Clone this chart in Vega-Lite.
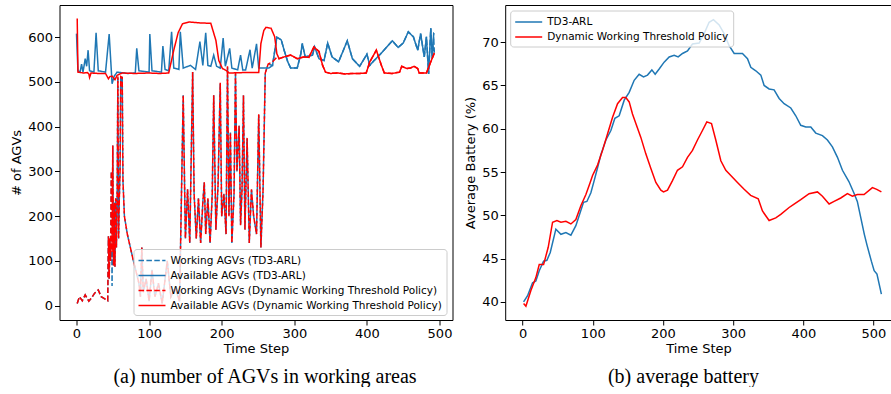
{
  "$schema": "https://vega.github.io/schema/vega-lite/v6.json",
  "padding": {"left": 10.5, "top": 5, "right": 0, "bottom": 0},
  "spacing": 11.7,
  "datasets": {
    "agv": [
      {"s":"W1","t":1,"v":5},{"s":"W1","t":4,"v":20},{"s":"W1","t":8,"v":11},{"s":"W1","t":12,"v":24},{"s":"W1","t":17,"v":10},{"s":"W1","t":21,"v":18},{"s":"W1","t":25,"v":28},{"s":"W1","t":30,"v":35},{"s":"W1","t":34,"v":20},{"s":"W1","t":39,"v":15},{"s":"W1","t":43,"v":11},{"s":"W1","t":44,"v":155},{"s":"W1","t":45,"v":60},{"s":"W1","t":46,"v":150},{"s":"W1","t":47,"v":100},{"s":"W1","t":48,"v":300},{"s":"W1","t":49,"v":44},{"s":"W1","t":50,"v":358},{"s":"W1","t":51,"v":90},{"s":"W1","t":52,"v":230},{"s":"W1","t":53,"v":87},{"s":"W1","t":54,"v":240},{"s":"W1","t":55,"v":130},{"s":"W1","t":56,"v":250},{"s":"W1","t":57,"v":512},{"s":"W1","t":58,"v":150},{"s":"W1","t":59,"v":240},{"s":"W1","t":60,"v":300},{"s":"W1","t":61,"v":512},{"s":"W1","t":63,"v":510},{"s":"W1","t":64,"v":280},{"s":"W1","t":66,"v":200},{"s":"W1","t":70,"v":160},{"s":"W1","t":77,"v":110},{"s":"W1","t":86,"v":50},{"s":"W1","t":88,"v":20},{"s":"W1","t":90,"v":130},{"s":"W1","t":92,"v":30},{"s":"W1","t":96,"v":60},{"s":"W1","t":100,"v":10},{"s":"W1","t":104,"v":80},{"s":"W1","t":108,"v":20},{"s":"W1","t":113,"v":50},{"s":"W1","t":118,"v":5},{"s":"W1","t":125,"v":100},{"s":"W1","t":130,"v":20},{"s":"W1","t":136,"v":40},{"s":"W1","t":142,"v":10},{"s":"W1","t":147,"v":470},{"s":"W1","t":150,"v":150},{"s":"W1","t":153,"v":260},{"s":"W1","t":156,"v":140},{"s":"W1","t":160,"v":522},{"s":"W1","t":162,"v":250},{"s":"W1","t":165,"v":150},{"s":"W1","t":168,"v":240},{"s":"W1","t":171,"v":140},{"s":"W1","t":174,"v":230},{"s":"W1","t":176,"v":276},{"s":"W1","t":178,"v":160},{"s":"W1","t":181,"v":240},{"s":"W1","t":184,"v":140},{"s":"W1","t":187,"v":250},{"s":"W1","t":189,"v":470},{"s":"W1","t":192,"v":170},{"s":"W1","t":195,"v":270},{"s":"W1","t":198,"v":498},{"s":"W1","t":200,"v":200},{"s":"W1","t":203,"v":250},{"s":"W1","t":206,"v":160},{"s":"W1","t":208,"v":535},{"s":"W1","t":210,"v":200},{"s":"W1","t":212,"v":387},{"s":"W1","t":214,"v":140},{"s":"W1","t":217,"v":250},{"s":"W1","t":219,"v":520},{"s":"W1","t":221,"v":300},{"s":"W1","t":224,"v":402},{"s":"W1","t":226,"v":180},{"s":"W1","t":228,"v":260},{"s":"W1","t":230,"v":470},{"s":"W1","t":232,"v":170},{"s":"W1","t":235,"v":375},{"s":"W1","t":238,"v":140},{"s":"W1","t":241,"v":260},{"s":"W1","t":244,"v":200},{"s":"W1","t":248,"v":160},{"s":"W1","t":251,"v":428},{"s":"W1","t":254,"v":130},{"s":"W1","t":257,"v":260},{"s":"W1","t":260,"v":520},{"s":"W1","t":264,"v":540},{"s":"W1","t":270,"v":537},{"s":"W1","t":276,"v":600},{"s":"W1","t":282,"v":594},{"s":"W1","t":286,"v":571},{"s":"W1","t":291,"v":545},{"s":"W1","t":295,"v":531},{"s":"W1","t":304,"v":531},{"s":"W1","t":309,"v":563},{"s":"W1","t":311,"v":586},{"s":"W1","t":315,"v":556},{"s":"W1","t":325,"v":560},{"s":"W1","t":328,"v":578},{"s":"W1","t":334,"v":552},{"s":"W1","t":341,"v":548},{"s":"W1","t":346,"v":587},{"s":"W1","t":352,"v":556},{"s":"W1","t":361,"v":545},{"s":"W1","t":373,"v":592},{"s":"W1","t":380,"v":552},{"s":"W1","t":390,"v":535},{"s":"W1","t":400,"v":562},{"s":"W1","t":404,"v":537},{"s":"W1","t":410,"v":548},{"s":"W1","t":419,"v":563},{"s":"W1","t":435,"v":592},{"s":"W1","t":443,"v":577},{"s":"W1","t":450,"v":587},{"s":"W1","t":457,"v":612},{"s":"W1","t":464,"v":601},{"s":"W1","t":470,"v":571},{"s":"W1","t":474,"v":608},{"s":"W1","t":479,"v":556},{"s":"W1","t":482,"v":601},{"s":"W1","t":485,"v":518},{"s":"W1","t":488,"v":620},{"s":"W1","t":490,"v":552},{"s":"W1","t":492,"v":600},{"s":"W1","t":493,"v":560},

      {"s":"A1","t":0,"v":608},{"s":"A1","t":2,"v":525},{"s":"A1","t":5,"v":522},{"s":"A1","t":7,"v":540},{"s":"A1","t":9,"v":522},{"s":"A1","t":12,"v":552},{"s":"A1","t":14,"v":535},{"s":"A1","t":16,"v":571},{"s":"A1","t":18,"v":525},{"s":"A1","t":24,"v":522},{"s":"A1","t":27,"v":610},{"s":"A1","t":30,"v":525},{"s":"A1","t":40,"v":522},{"s":"A1","t":45,"v":607},{"s":"A1","t":48,"v":525},{"s":"A1","t":49,"v":496},{"s":"A1","t":52,"v":513},{"s":"A1","t":56,"v":522},{"s":"A1","t":70,"v":519},{"s":"A1","t":81,"v":520},{"s":"A1","t":83,"v":575},{"s":"A1","t":86,"v":525},{"s":"A1","t":100,"v":522},{"s":"A1","t":101,"v":607},{"s":"A1","t":104,"v":525},{"s":"A1","t":117,"v":522},{"s":"A1","t":119,"v":580},{"s":"A1","t":122,"v":528},{"s":"A1","t":127,"v":525},{"s":"A1","t":131,"v":612},{"s":"A1","t":134,"v":531},{"s":"A1","t":141,"v":528},{"s":"A1","t":143,"v":612},{"s":"A1","t":147,"v":531},{"s":"A1","t":157,"v":537},{"s":"A1","t":164,"v":528},{"s":"A1","t":170,"v":590},{"s":"A1","t":174,"v":537},{"s":"A1","t":178,"v":610},{"s":"A1","t":181,"v":537},{"s":"A1","t":185,"v":535},{"s":"A1","t":189,"v":560},{"s":"A1","t":193,"v":535},{"s":"A1","t":198,"v":531},{"s":"A1","t":202,"v":598},{"s":"A1","t":205,"v":535},{"s":"A1","t":211,"v":575},{"s":"A1","t":214,"v":531},{"s":"A1","t":222,"v":527},{"s":"A1","t":226,"v":560},{"s":"A1","t":229,"v":527},{"s":"A1","t":233,"v":527},{"s":"A1","t":239,"v":572},{"s":"A1","t":242,"v":531},{"s":"A1","t":248,"v":585},{"s":"A1","t":251,"v":531},{"s":"A1","t":265,"v":531},{"s":"A1","t":270,"v":537},{"s":"A1","t":276,"v":600},{"s":"A1","t":282,"v":594},{"s":"A1","t":286,"v":571},{"s":"A1","t":291,"v":545},{"s":"A1","t":295,"v":531},{"s":"A1","t":304,"v":531},{"s":"A1","t":309,"v":563},{"s":"A1","t":311,"v":586},{"s":"A1","t":315,"v":556},{"s":"A1","t":325,"v":560},{"s":"A1","t":328,"v":578},{"s":"A1","t":334,"v":552},{"s":"A1","t":341,"v":548},{"s":"A1","t":346,"v":587},{"s":"A1","t":352,"v":556},{"s":"A1","t":361,"v":545},{"s":"A1","t":373,"v":592},{"s":"A1","t":380,"v":552},{"s":"A1","t":390,"v":535},{"s":"A1","t":400,"v":562},{"s":"A1","t":404,"v":537},{"s":"A1","t":410,"v":548},{"s":"A1","t":419,"v":563},{"s":"A1","t":435,"v":592},{"s":"A1","t":443,"v":577},{"s":"A1","t":450,"v":587},{"s":"A1","t":457,"v":612},{"s":"A1","t":464,"v":601},{"s":"A1","t":470,"v":571},{"s":"A1","t":474,"v":608},{"s":"A1","t":479,"v":556},{"s":"A1","t":482,"v":601},{"s":"A1","t":485,"v":518},{"s":"A1","t":488,"v":620},{"s":"A1","t":490,"v":552},{"s":"A1","t":492,"v":608},{"s":"A1","t":493,"v":606},

      {"s":"W2","t":1,"v":5},{"s":"W2","t":4,"v":20},{"s":"W2","t":8,"v":11},{"s":"W2","t":12,"v":24},{"s":"W2","t":17,"v":10},{"s":"W2","t":21,"v":18},{"s":"W2","t":25,"v":28},{"s":"W2","t":30,"v":35},{"s":"W2","t":34,"v":20},{"s":"W2","t":39,"v":15},{"s":"W2","t":43,"v":11},{"s":"W2","t":44,"v":155},{"s":"W2","t":45,"v":60},{"s":"W2","t":46,"v":150},{"s":"W2","t":47,"v":100},{"s":"W2","t":48,"v":300},{"s":"W2","t":49,"v":120},{"s":"W2","t":50,"v":358},{"s":"W2","t":51,"v":90},{"s":"W2","t":52,"v":230},{"s":"W2","t":53,"v":87},{"s":"W2","t":54,"v":240},{"s":"W2","t":55,"v":130},{"s":"W2","t":56,"v":250},{"s":"W2","t":57,"v":512},{"s":"W2","t":58,"v":150},{"s":"W2","t":59,"v":240},{"s":"W2","t":60,"v":300},{"s":"W2","t":61,"v":512},{"s":"W2","t":63,"v":510},{"s":"W2","t":64,"v":280},{"s":"W2","t":66,"v":200},{"s":"W2","t":70,"v":160},{"s":"W2","t":77,"v":110},{"s":"W2","t":86,"v":50},{"s":"W2","t":88,"v":20},{"s":"W2","t":90,"v":130},{"s":"W2","t":92,"v":30},{"s":"W2","t":96,"v":60},{"s":"W2","t":100,"v":10},{"s":"W2","t":104,"v":80},{"s":"W2","t":108,"v":20},{"s":"W2","t":113,"v":50},{"s":"W2","t":118,"v":5},{"s":"W2","t":125,"v":100},{"s":"W2","t":130,"v":20},{"s":"W2","t":136,"v":40},{"s":"W2","t":142,"v":10},{"s":"W2","t":147,"v":470},{"s":"W2","t":150,"v":150},{"s":"W2","t":153,"v":260},{"s":"W2","t":156,"v":140},{"s":"W2","t":160,"v":522},{"s":"W2","t":162,"v":250},{"s":"W2","t":165,"v":150},{"s":"W2","t":168,"v":240},{"s":"W2","t":171,"v":140},{"s":"W2","t":174,"v":230},{"s":"W2","t":176,"v":276},{"s":"W2","t":178,"v":160},{"s":"W2","t":181,"v":240},{"s":"W2","t":184,"v":140},{"s":"W2","t":187,"v":250},{"s":"W2","t":189,"v":470},{"s":"W2","t":192,"v":170},{"s":"W2","t":195,"v":270},{"s":"W2","t":198,"v":498},{"s":"W2","t":200,"v":200},{"s":"W2","t":203,"v":250},{"s":"W2","t":206,"v":160},{"s":"W2","t":208,"v":535},{"s":"W2","t":210,"v":200},{"s":"W2","t":212,"v":387},{"s":"W2","t":214,"v":140},{"s":"W2","t":217,"v":250},{"s":"W2","t":219,"v":520},{"s":"W2","t":221,"v":300},{"s":"W2","t":224,"v":402},{"s":"W2","t":226,"v":180},{"s":"W2","t":228,"v":260},{"s":"W2","t":230,"v":470},{"s":"W2","t":232,"v":170},{"s":"W2","t":235,"v":375},{"s":"W2","t":238,"v":140},{"s":"W2","t":241,"v":260},{"s":"W2","t":244,"v":200},{"s":"W2","t":248,"v":160},{"s":"W2","t":251,"v":428},{"s":"W2","t":254,"v":130},{"s":"W2","t":257,"v":260},{"s":"W2","t":260,"v":520},{"s":"W2","t":264,"v":540},{"s":"W2","t":270,"v":545},{"s":"W2","t":276,"v":555},{"s":"W2","t":279,"v":552},{"s":"W2","t":286,"v":556},{"s":"W2","t":295,"v":560},{"s":"W2","t":304,"v":552},{"s":"W2","t":313,"v":556},{"s":"W2","t":320,"v":555},{"s":"W2","t":327,"v":578},{"s":"W2","t":334,"v":568},{"s":"W2","t":339,"v":537},{"s":"W2","t":343,"v":522},{"s":"W2","t":350,"v":519},{"s":"W2","t":360,"v":520},{"s":"W2","t":370,"v":518},{"s":"W2","t":380,"v":519},{"s":"W2","t":390,"v":519},{"s":"W2","t":399,"v":520},{"s":"W2","t":404,"v":545},{"s":"W2","t":413,"v":571},{"s":"W2","t":420,"v":537},{"s":"W2","t":424,"v":520},{"s":"W2","t":435,"v":519},{"s":"W2","t":445,"v":522},{"s":"W2","t":448,"v":535},{"s":"W2","t":455,"v":530},{"s":"W2","t":460,"v":531},{"s":"W2","t":465,"v":535},{"s":"W2","t":470,"v":530},{"s":"W2","t":472,"v":520},{"s":"W2","t":482,"v":520},{"s":"W2","t":488,"v":545},{"s":"W2","t":493,"v":565},

      {"s":"A2","t":1,"v":642},{"s":"A2","t":2,"v":522},{"s":"A2","t":10,"v":520},{"s":"A2","t":15,"v":521},{"s":"A2","t":17,"v":518},{"s":"A2","t":18,"v":510},{"s":"A2","t":20,"v":520},{"s":"A2","t":30,"v":519},{"s":"A2","t":40,"v":519},{"s":"A2","t":44,"v":507},{"s":"A2","t":46,"v":512},{"s":"A2","t":49,"v":513},{"s":"A2","t":53,"v":505},{"s":"A2","t":56,"v":515},{"s":"A2","t":60,"v":518},{"s":"A2","t":63,"v":520},{"s":"A2","t":80,"v":519},{"s":"A2","t":100,"v":520},{"s":"A2","t":115,"v":519},{"s":"A2","t":127,"v":520},{"s":"A2","t":134,"v":571},{"s":"A2","t":140,"v":610},{"s":"A2","t":146,"v":630},{"s":"A2","t":155,"v":634},{"s":"A2","t":170,"v":632},{"s":"A2","t":185,"v":631},{"s":"A2","t":192,"v":593},{"s":"A2","t":196,"v":548},{"s":"A2","t":201,"v":530},{"s":"A2","t":207,"v":525},{"s":"A2","t":210,"v":520},{"s":"A2","t":230,"v":521},{"s":"A2","t":251,"v":521},{"s":"A2","t":254,"v":586},{"s":"A2","t":258,"v":615},{"s":"A2","t":261,"v":622},{"s":"A2","t":268,"v":620},{"s":"A2","t":273,"v":601},{"s":"A2","t":276,"v":563},{"s":"A2","t":279,"v":552},{"s":"A2","t":286,"v":556},{"s":"A2","t":295,"v":560},{"s":"A2","t":304,"v":552},{"s":"A2","t":313,"v":556},{"s":"A2","t":320,"v":555},{"s":"A2","t":327,"v":578},{"s":"A2","t":334,"v":568},{"s":"A2","t":339,"v":537},{"s":"A2","t":343,"v":522},{"s":"A2","t":350,"v":519},{"s":"A2","t":360,"v":520},{"s":"A2","t":370,"v":518},{"s":"A2","t":380,"v":519},{"s":"A2","t":390,"v":519},{"s":"A2","t":399,"v":520},{"s":"A2","t":404,"v":545},{"s":"A2","t":413,"v":571},{"s":"A2","t":420,"v":537},{"s":"A2","t":424,"v":520},{"s":"A2","t":435,"v":519},{"s":"A2","t":445,"v":522},{"s":"A2","t":448,"v":535},{"s":"A2","t":455,"v":530},{"s":"A2","t":460,"v":531},{"s":"A2","t":465,"v":535},{"s":"A2","t":470,"v":530},{"s":"A2","t":472,"v":520},{"s":"A2","t":482,"v":520},{"s":"A2","t":488,"v":545},{"s":"A2","t":493,"v":565}
    ],
    "bat": [
      {"s":"T","t":1.4,"v":40},{"s":"T","t":7.1,"v":40.7},{"s":"T","t":14.2,"v":42.2},{"s":"T","t":18.9,"v":42.4},{"s":"T","t":23.7,"v":43.6},{"s":"T","t":29.9,"v":44.7},{"s":"T","t":34.6,"v":44.8},{"s":"T","t":39.4,"v":45.7},{"s":"T","t":47.4,"v":48.4},{"s":"T","t":54.6,"v":47.8},{"s":"T","t":61.7,"v":48},{"s":"T","t":68.8,"v":47.7},{"s":"T","t":75.9,"v":48.8},{"s":"T","t":86.8,"v":51.5},{"s":"T","t":91.6,"v":51.6},{"s":"T","t":97.3,"v":52.6},{"s":"T","t":102,"v":54},{"s":"T","t":106.8,"v":55.5},{"s":"T","t":111.5,"v":57},{"s":"T","t":118.7,"v":58.7},{"s":"T","t":125.8,"v":59.8},{"s":"T","t":131.5,"v":61.2},{"s":"T","t":137.6,"v":61.5},{"s":"T","t":144.8,"v":63.3},{"s":"T","t":151.9,"v":64.2},{"s":"T","t":159,"v":65.6},{"s":"T","t":166.1,"v":66.3},{"s":"T","t":172.3,"v":66},{"s":"T","t":178,"v":66.2},{"s":"T","t":184.2,"v":66.8},{"s":"T","t":188.9,"v":66.3},{"s":"T","t":194.6,"v":66.9},{"s":"T","t":201.7,"v":67.7},{"s":"T","t":208.9,"v":68.3},{"s":"T","t":216,"v":68.5},{"s":"T","t":221.7,"v":68.3},{"s":"T","t":227.9,"v":68.7},{"s":"T","t":235,"v":69},{"s":"T","t":242.1,"v":69.8},{"s":"T","t":251.6,"v":69.9},{"s":"T","t":258.7,"v":71},{"s":"T","t":265.8,"v":72.3},{"s":"T","t":272,"v":72.6},{"s":"T","t":280.1,"v":72},{"s":"T","t":287.2,"v":71},{"s":"T","t":294.3,"v":69.6},{"s":"T","t":301.5,"v":68.7},{"s":"T","t":313.3,"v":68.7},{"s":"T","t":320.5,"v":68.1},{"s":"T","t":325.2,"v":67.1},{"s":"T","t":332.3,"v":66.7},{"s":"T","t":339.5,"v":66.2},{"s":"T","t":344.2,"v":65},{"s":"T","t":351.3,"v":64.6},{"s":"T","t":358.4,"v":64.5},{"s":"T","t":365.6,"v":63.5},{"s":"T","t":372.7,"v":62.9},{"s":"T","t":382.2,"v":62.4},{"s":"T","t":389.3,"v":61.5},{"s":"T","t":396.4,"v":60.4},{"s":"T","t":403.6,"v":60.2},{"s":"T","t":410.7,"v":60.2},{"s":"T","t":417.8,"v":59.5},{"s":"T","t":427.3,"v":59.2},{"s":"T","t":434.4,"v":58.7},{"s":"T","t":441.5,"v":57.9},{"s":"T","t":448.7,"v":56.7},{"s":"T","t":455.8,"v":55.2},{"s":"T","t":465,"v":53.9},{"s":"T","t":472,"v":52.6},{"s":"T","t":477,"v":51.6},{"s":"T","t":482,"v":49.7},{"s":"T","t":487,"v":47.8},{"s":"T","t":491,"v":46.5},{"s":"T","t":497,"v":44.7},{"s":"T","t":501,"v":43.6},{"s":"T","t":505,"v":43.2},{"s":"T","t":511.3,"v":40.9},

      {"s":"D","t":1.4,"v":39.8},{"s":"D","t":4.7,"v":39.5},{"s":"D","t":11.8,"v":41.3},{"s":"D","t":18.9,"v":42.8},{"s":"D","t":23.7,"v":44.3},{"s":"D","t":29.9,"v":44.3},{"s":"D","t":36.5,"v":46.3},{"s":"D","t":42.7,"v":49.2},{"s":"D","t":48.9,"v":49.4},{"s":"D","t":54.6,"v":49.2},{"s":"D","t":61.7,"v":49.3},{"s":"D","t":68.8,"v":49},{"s":"D","t":75.9,"v":49.5},{"s":"D","t":83,"v":51.1},{"s":"D","t":90.2,"v":52.4},{"s":"D","t":96.3,"v":53.8},{"s":"D","t":99.7,"v":54.6},{"s":"D","t":106.8,"v":55.8},{"s":"D","t":113.9,"v":57.5},{"s":"D","t":121,"v":59.4},{"s":"D","t":128.1,"v":61.3},{"s":"D","t":135.3,"v":62.9},{"s":"D","t":142.4,"v":63.6},{"s":"D","t":147.1,"v":63.6},{"s":"D","t":151.9,"v":63.1},{"s":"D","t":156.6,"v":61.7},{"s":"D","t":161.4,"v":60.6},{"s":"D","t":168.5,"v":59},{"s":"D","t":175.6,"v":57.1},{"s":"D","t":182.8,"v":55.4},{"s":"D","t":189.9,"v":53.8},{"s":"D","t":197,"v":52.9},{"s":"D","t":200.8,"v":52.7},{"s":"D","t":206.5,"v":52.9},{"s":"D","t":213.6,"v":54},{"s":"D","t":220.7,"v":55.2},{"s":"D","t":227.9,"v":55.6},{"s":"D","t":235,"v":56.7},{"s":"D","t":242.1,"v":57.5},{"s":"D","t":249.2,"v":58.7},{"s":"D","t":256.3,"v":59.8},{"s":"D","t":262.5,"v":60.8},{"s":"D","t":269.2,"v":60.6},{"s":"D","t":275.3,"v":58.7},{"s":"D","t":282.5,"v":56.3},{"s":"D","t":289.6,"v":55.2},{"s":"D","t":296.7,"v":54.6},{"s":"D","t":306.2,"v":53.8},{"s":"D","t":315.7,"v":53},{"s":"D","t":325,"v":52.3},{"s":"D","t":335.8,"v":51.9},{"s":"D","t":341.8,"v":50.5},{"s":"D","t":351.3,"v":49.4},{"s":"D","t":360.8,"v":49.7},{"s":"D","t":367.9,"v":50.1},{"s":"D","t":379.8,"v":50.9},{"s":"D","t":386.9,"v":51.3},{"s":"D","t":396.4,"v":51.8},{"s":"D","t":408.3,"v":52.5},{"s":"D","t":420.2,"v":52.7},{"s":"D","t":427.3,"v":52.2},{"s":"D","t":436.8,"v":51.3},{"s":"D","t":443.9,"v":51.6},{"s":"D","t":453.4,"v":52},{"s":"D","t":462.9,"v":52.5},{"s":"D","t":470,"v":52.2},{"s":"D","t":477.1,"v":52.4},{"s":"D","t":486.6,"v":52.4},{"s":"D","t":498.5,"v":53.2},{"s":"D","t":504.7,"v":53},{"s":"D","t":511.3,"v":52.7}
    ]
  },
  "hconcat": [
    {
      "width": 393,
      "height": 315,
      "title": {"text": "(a) number of AGVs in working areas", "orient": "bottom", "anchor": "middle", "frame": "group", "font": "Liberation Serif", "fontSize": 20, "fontWeight": "normal", "color": "black", "offset": 12, "dx": 9},
      "layer": [
        {
          "data": {"name": "agv"},
          "mark": {"type": "line", "strokeWidth": 1.5},
          "encoding": {
            "x": {"field": "t", "type": "quantitative", "scale": {"domain": [-23.4, 517.9], "nice": false, "zero": false}, "axis": {"title": "Time Step", "values": [0, 100, 200, 300, 400, 500], "titlePadding": 2}},
            "y": {"field": "v", "type": "quantitative", "scale": {"domain": [-32, 672], "nice": false, "zero": false}, "axis": {"title": "# of AGVs", "values": [0, 100, 200, 300, 400, 500, 600], "titlePadding": 4}},
            "color": {"field": "s", "type": "nominal", "scale": {"domain": ["W1", "A1", "W2", "A2"], "range": ["#1f77b4", "#1f77b4", "#ff0000", "#ff0000"]},
              "legend": {"title": null, "orient": "none", "legendX": 74, "legendY": 244, "labelExpr": "datum.label == 'W1' ? 'Working AGVs (TD3-ARL)' : datum.label == 'A1' ? 'Available AGVs (TD3-ARL)' : datum.label == 'W2' ? 'Working AGVs (Dynamic Working Threshold Policy)' : 'Available AGVs (Dynamic Working Threshold Policy)'"}},
            "strokeDash": {"field": "s", "type": "nominal", "scale": {"domain": ["W1", "A1", "W2", "A2"], "range": [[5.5, 2.4], [1, 0], [5.5, 2.4], [1, 0]]},
              "legend": {"title": null, "orient": "none", "legendX": 74, "legendY": 244, "labelExpr": "datum.label == 'W1' ? 'Working AGVs (TD3-ARL)' : datum.label == 'A1' ? 'Available AGVs (TD3-ARL)' : datum.label == 'W2' ? 'Working AGVs (Dynamic Working Threshold Policy)' : 'Available AGVs (Dynamic Working Threshold Policy)'"}}
          }
        },
        {
          "data": {"values": [{"a": 0}]},
          "mark": {"type": "point", "opacity": 0},
          "encoding": {
            "x": {"datum": 0, "type": "quantitative", "axis": {"orient": "top", "labels": false, "ticks": false, "title": null}},
            "y": {"datum": 0, "type": "quantitative", "axis": {"orient": "right", "labels": false, "ticks": false, "title": null}}
          }
        }
      ],
      "resolve": {"axis": {"x": "independent", "y": "independent"}}
    },
    {
      "width": 386.5,
      "height": 315,
      "title": {"text": "(b) average battery", "orient": "bottom", "anchor": "middle", "frame": "group", "font": "Liberation Serif", "fontSize": 20, "fontWeight": "normal", "color": "black", "offset": 12, "dx": -15},
      "layer": [
        {
          "data": {"name": "bat"},
          "mark": {"type": "line", "strokeWidth": 1.5},
          "encoding": {
            "x": {"field": "t", "type": "quantitative", "scale": {"domain": [-24.8, 526], "nice": false, "zero": false}, "axis": {"title": "Time Step", "values": [0, 100, 200, 300, 400, 500], "titlePadding": 2}},
            "y": {"field": "v", "type": "quantitative", "scale": {"domain": [37.9, 74.3], "nice": false, "zero": false}, "axis": {"title": "Average Battery (%)", "values": [40, 45, 50, 55, 60, 65, 70], "titlePadding": 4}},
            "color": {"field": "s", "type": "nominal", "scale": {"domain": ["T", "D"], "range": ["#1f77b4", "#ff0000"]},
              "legend": {"title": null, "orient": "none", "legendX": 5, "legendY": 5.5, "labelExpr": "datum.label == 'T' ? 'TD3-ARL' : 'Dynamic Working Threshold Policy'"}}
          }
        },
        {
          "data": {"values": [{"a": 0}]},
          "mark": {"type": "point", "opacity": 0},
          "encoding": {
            "x": {"datum": 0, "type": "quantitative", "axis": {"orient": "top", "labels": false, "ticks": false, "title": null}}
          }
        }
      ],
      "resolve": {"axis": {"x": "independent"}}
    }
  ],
  "resolve": {"scale": {"color": "independent", "strokeDash": "independent"}, "legend": {"color": "independent", "strokeDash": "independent"}},
  "config": {
    "view": {"stroke": null},
    "font": "DejaVu Sans",
    "axis": {"domainColor": "black", "tickColor": "black", "labelColor": "black", "titleColor": "black", "labelFont": "DejaVu Sans", "titleFont": "DejaVu Sans", "labelFontSize": 13, "titleFontSize": 13, "titleFontWeight": "normal", "tickSize": 5, "labelPadding": 2, "grid": false, "domainWidth": 1, "tickWidth": 1},
    "legend": {"symbolType": "M-2,0H2", "symbolStrokeWidth": 1.5, "symbolSize": 182, "symbolOffset": 7, "labelFont": "DejaVu Sans", "labelFontSize": 10.5, "labelColor": "black", "labelOffset": 11, "padding": 4, "rowPadding": 2, "fillColor": "rgba(255,255,255,0.8)", "strokeColor": "#cccccc", "cornerRadius": 3, "labelLimit": 400}
  }
}
